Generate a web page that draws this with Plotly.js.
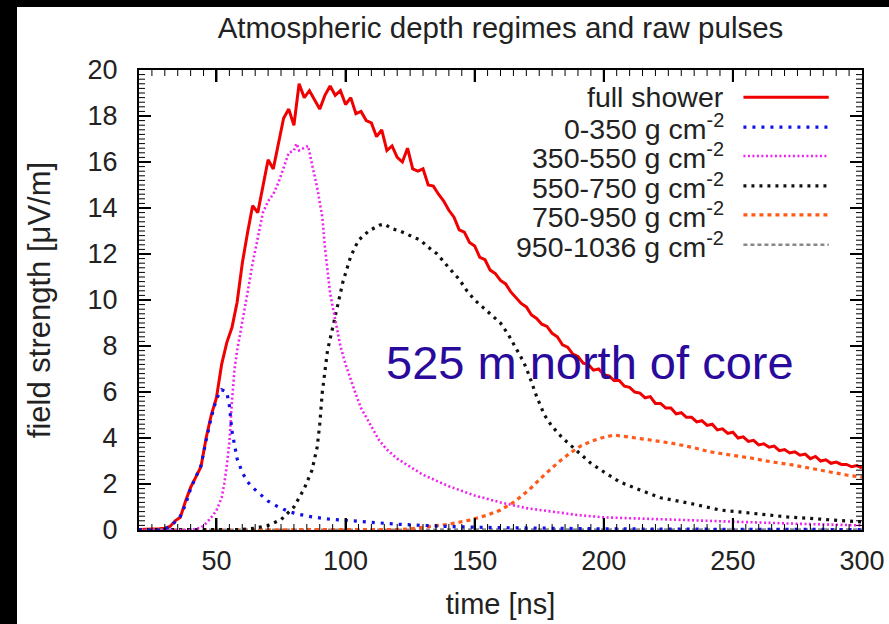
<!DOCTYPE html>
<html><head><meta charset="utf-8">
<script src="https://cdn.plot.ly/plotly-3.0.1.min.js"></script>
<style>
html,body{margin:0;padding:0;background:#000;width:889px;height:624px;overflow:hidden}
#plot{position:absolute;left:17px;top:7px;width:872px;height:617px;background:#fff}
</style></head>
<body><div id="plot"></div>
<script>
const chartTitle = 'Atmospheric depth regimes and raw pulses';
const xTitle = 'time [ns]';
const yTitle = 'field strength [μV/m]';
const noteText = '525 m north of core';
const seriesNames = ['full shower','0-350 g cm<sup>-2</sup>','350-550 g cm<sup>-2</sup>','550-750 g cm<sup>-2</sup>','750-950 g cm<sup>-2</sup>','950-1036 g cm<sup>-2</sup>'];
const xMajorTicks = [50,100,150,200,250,300];
const yMajorTicks = [0,2,4,6,8,10,12,14,16,18,20];

const fullX = [20,22,24,26,28,30,32,34,36,38,40,42,44,46,48,50,52,54,56,58,60,62,64,66,68,70,72,74,76,78,80,82,84,86,88,90,92,94,96,98,100,102,104,106,108,110,112,114,116,118,120,122,124,126,128,130,132,134,136,138,140,142,144,146,148,150,152,154,156,158,160,162,164,166,168,170,172,174,176,178,180,182,184,186,188,190,192,194,196,198,200,202,204,206,208,210,212,214,216,218,220,222,224,226,228,230,232,234,236,238,240,242,244,246,248,250,252,254,256,258,260,262,264,266,268,270,272,274,276,278,280,282,284,286,288,290,292,294,296,298,300];
const fullY = [0.02,0.02,0.03,0.02,0.05,0.08,0.15,0.4,0.55,1.25,1.85,2.3,2.75,4.0,5.0,5.75,7.2,8.15,8.8,9.9,11.6,12.9,14.1,13.8,15.0,16.1,15.7,16.8,17.9,18.3,17.6,19.4,18.8,19.1,18.7,18.3,18.9,19.3,18.9,19.1,18.5,18.8,18.1,18.2,17.8,17.7,17.1,17.4,16.5,16.7,16.2,16.0,16.6,15.7,15.6,15.7,15.0,14.95,14.6,14.3,13.9,13.6,13.05,12.95,12.5,12.35,11.85,11.75,11.3,11.15,10.85,10.7,10.35,10.1,9.85,9.7,9.35,9.2,8.95,8.85,8.55,8.4,8.05,7.95,7.65,7.55,7.25,7.2,6.95,7.0,6.75,6.7,6.5,6.5,6.25,6.2,6.0,5.95,5.75,5.8,5.5,5.5,5.3,5.3,5.05,5.1,4.9,4.9,4.7,4.75,4.55,4.6,4.35,4.4,4.2,4.25,4.0,4.05,3.85,3.9,3.7,3.75,3.6,3.65,3.45,3.5,3.35,3.4,3.25,3.3,3.1,3.2,3.0,3.05,2.9,2.95,2.85,2.85,2.75,2.8,2.7];

const d0X = [20,24,28,30,32,34,36,38,40,42,44,46,48,50,52,54,55,56,57,58,60,62,64,66,68,70,74,78,82,87,93,100,110,120,130,140,160,180,200,250,300];
const d0Y = [0,0,0,0.05,0.15,0.35,0.6,1.1,1.8,2.3,2.8,3.9,4.9,5.7,6.1,6.0,5.4,4.3,3.6,3.1,2.5,2.1,1.85,1.65,1.45,1.25,1.0,0.8,0.68,0.57,0.48,0.42,0.32,0.25,0.2,0.15,0.1,0.07,0.05,0.03,0.02];

const d1X = [20,30,40,44,46,48,50,52,53,54,55,56,57,58,60,62,64,66,68,70,72,74,76,78,80,81,82,84,85.5,87,89,91,92,94,96,98,100,102,104,106,108,110,113,116,120,130,140,150,160,170,180,190,200,225,250,275,300];
const d1Y = [0,0,0,0.1,0.3,0.55,0.85,1.4,2.0,2.8,3.8,5.6,7.0,7.8,9.0,10.3,11.6,12.7,13.8,14.3,14.6,15.1,15.8,16.4,16.5,16.8,16.5,16.6,16.7,15.9,14.9,13.6,12.3,10.3,9.1,8.0,7.2,6.5,5.9,5.3,4.9,4.5,3.9,3.5,3.1,2.4,1.9,1.5,1.2,0.95,0.8,0.65,0.55,0.45,0.35,0.27,0.2];

const d2X = [20,40,60,65,70,75,80,84,87,89,90,91,92,93,95,97,99,102,105,109,113,115,118,121,125,129,132,135.5,140,144,147,150,153,157,160,163,165,167,169,171,174,177,180,184,188,191,195,199,206,214,222,233,245,258,271,284,300];
const d2Y = [0.02,0.02,0.02,0.08,0.2,0.45,1.0,1.8,2.6,3.6,4.6,6.0,7.0,7.8,8.8,9.8,10.8,11.9,12.6,13.0,13.25,13.3,13.1,13.0,12.8,12.6,12.3,12.0,11.4,10.9,10.4,10.0,9.7,9.3,9.0,8.5,8.1,7.7,7.3,6.75,5.8,5.0,4.5,4.0,3.6,3.3,2.9,2.6,2.1,1.74,1.4,1.17,0.87,0.72,0.57,0.47,0.35];

const d3X = [20,60,100,120,125,133,140,148,155,160,165,171,177,183,187,191,195,199,204,210,218,226,234,241,249,257,265,273,284,294,300];
const d3Y = [0,0,0,0.02,0.05,0.15,0.25,0.43,0.65,0.87,1.2,1.74,2.4,3.0,3.35,3.65,3.85,4.0,4.13,4.04,3.9,3.78,3.6,3.4,3.26,3.13,2.96,2.83,2.6,2.39,2.3];

const d4X = [20,100,200,300];
const d4Y = [0.01,0.02,0.02,0.02];

const colors = ['#f00000','#1010e8','#f020f0','#111111','#ff5a1a','#888888'];
const widths = [3,3.2,2.6,3.2,3.2,2.6];
const dashes = ['solid','3px,6px','2px,2.5px','3px,5px','4px,4px','4px,3px'];

const xs=[fullX,d0X,d1X,d2X,d3X,d4X], ys=[fullY,d0Y,d1Y,d2Y,d3Y,d4Y];
const order=[0,5,4,3,2,1];
const traces = order.map(i=>({x:xs[i],y:ys[i],type:'scatter',mode:'lines',name:seriesNames[i],
  line:{color:colors[i],width:widths[i],dash:dashes[i]},showlegend:false,hoverinfo:'skip'}));

// Frame tick marks (inside, on all four sides), built from the tick arrays through the axis scales
const xRange=[20,300], yRange=[0,20], plotW=723, plotH=460;
const xPerPx=(xRange[1]-xRange[0])/plotW, yPerPx=(yRange[1]-yRange[0])/plotH;
function tickTrace(xv, yv, len, w){
  const tx=[], ty=[];
  const ly=len*yPerPx, lx=len*xPerPx;
  xv.forEach(v=>{ tx.push(v,v,null,v,v,null); ty.push(yRange[0],yRange[0]+ly,null,yRange[1],yRange[1]-ly,null); });
  yv.forEach(v=>{ tx.push(xRange[0],xRange[0]+lx,null,xRange[1],xRange[1]-lx,null); ty.push(v,v,null,v,v,null); });
  return {x:tx,y:ty,type:'scatter',mode:'lines',line:{color:'#000',width:w},showlegend:false,hoverinfo:'skip',connectgaps:false,cliponaxis:false};
}
const xMinor=[], yMinor=[];
for(let k=5;k<60;k++){const v=k*5; if(v%50!==0) xMinor.push(v);}
for(let k=1;k<100;k++){ if(k%10!==0) yMinor.push(k/5); }
traces.push(tickTrace(xMinor,yMinor,6,1));
traces.push(tickTrace(xMajorTicks.filter(v=>v<300),yMajorTicks.filter(v=>v>0&&v<20),12,2));

const font='"Liberation Sans", Arial, Helvetica, sans-serif';
const annotations=[{xref:'x',yref:'y',x:194.8,y:7.3,text:noteText,showarrow:false,
  font:{family:font,size:47,color:'#2a0a9c'},xanchor:'center',yanchor:'middle'}];
const shapes=[];
const rowY=[0.941,0.876,0.813,0.748,0.685,0.620];
seriesNames.forEach((n,i)=>{
  annotations.push({xref:'paper',yref:'paper',x:0.812,y:rowY[i],text:n,showarrow:false,
    xanchor:'right',yanchor:'middle',font:{family:font,size:28.5,color:'#222'}});
  shapes.push({type:'line',xref:'paper',yref:'paper',x0:0.836,x1:0.954,y0:rowY[i],y1:rowY[i],
    line:{color:colors[i],width:widths[i],dash:dashes[i]}});
});

const layout={
  width:872,height:617,
  margin:{l:122,r:27,t:63,b:94},
  title:{text:chartTitle,font:{family:font,size:29.5,color:'#222'},x:0.5,xref:'paper',xanchor:'center',y:0.966,yanchor:'middle'},
  xaxis:{range:xRange,tickmode:'array',tickvals:xMajorTicks,ticks:'inside',ticklen:12,tickwidth:2,tickcolor:'#000',
    showline:true,linecolor:'#000',linewidth:2,mirror:'ticks',showgrid:false,zeroline:false,
    tickfont:{family:font,size:27,color:'#222'},ticklabelstandoff:6,
    title:{text:xTitle,font:{family:font,size:29,color:'#222'},standoff:18}},
  yaxis:{range:yRange,tickmode:'array',tickvals:yMajorTicks,ticks:'inside',ticklen:12,tickwidth:2,tickcolor:'#000',
    showline:true,linecolor:'#000',linewidth:2,mirror:'ticks',showgrid:false,zeroline:false,
    tickfont:{family:font,size:27,color:'#222'},ticklabelstandoff:14,
    title:{text:yTitle,font:{family:font,size:31,color:'#222'},standoff:28}},
  annotations:annotations,shapes:shapes,showlegend:false
};
Plotly.newPlot('plot',traces,layout,{displayModeBar:false});
</script></body></html>
